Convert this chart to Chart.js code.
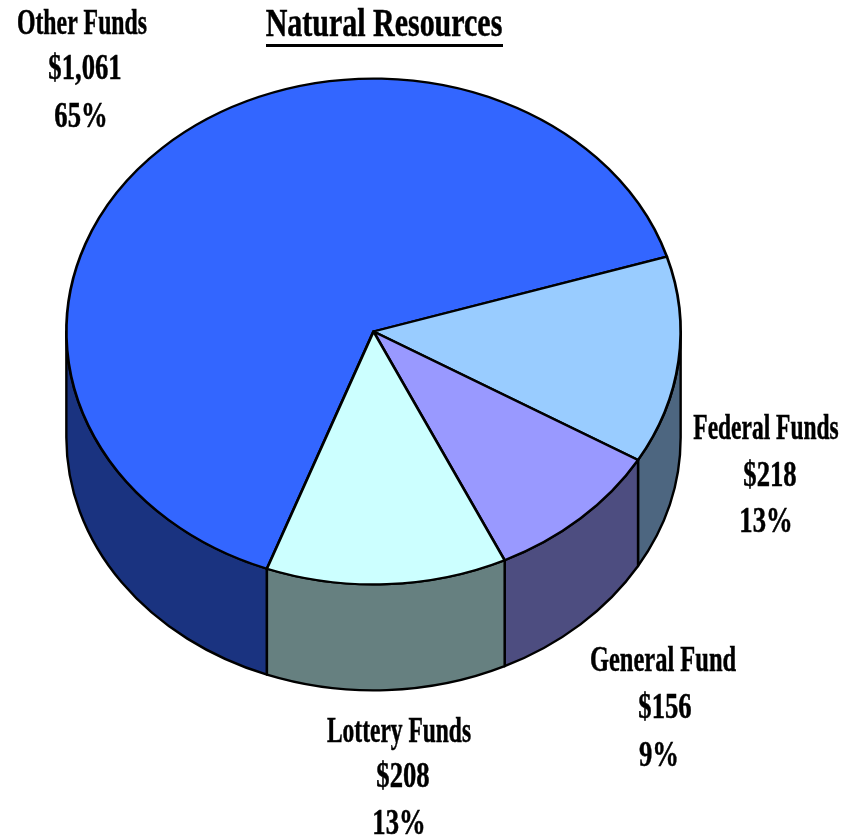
<!DOCTYPE html>
<html>
<head>
<meta charset="utf-8">
<style>
html,body{margin:0;padding:0;background:#fff;}
#wrap{position:absolute;left:0;top:0;width:844px;height:839px;}
</style>
<script src="https://cdn.jsdelivr.net/npm/chart.js@4"></script>
</head>
<body>
<div id="wrap"><canvas id="c" width="844" height="839"></canvas></div>
<script>
const chartTitle = 'Natural Resources';
const categories = ['Other Funds', 'Federal Funds', 'General Fund', 'Lottery Funds'];
const values = [1061, 218, 156, 208];
const amountLabels = ['$1,061', '$218', '$156', '$208'];
const percentLabels = ['65%', '13%', '9%', '13%'];
const topColors = ['#3366FF', '#99CCFF', '#9999FF', '#CCFFFF'];
const wallColors = ['#1A3380', '#4D6680', '#4D4D80', '#668080'];

// layout only
const squash = 254 / 308.5;
const depth = 106;
const startRotation = 200.3;
const labelCentres = [
  [[82, 25], [85, 70], [81, 118]],
  [[766, 430], [770, 477], [766, 523]],
  [[663, 662], [665, 709], [659, 757]],
  [[399, 733], [403, 778], [399, 825]]
];
const nameStretch = [0.66, 0.652, 0.68, 0.652];

const TAU = Math.PI * 2;
function condensedText(ctx, text, x, y, size, sx) {
  ctx.save();
  ctx.translate(x, y);
  ctx.scale(sx, 1);
  ctx.font = 'bold ' + size + 'px "Liberation Serif"';
  ctx.textAlign = 'center';
  ctx.textBaseline = 'middle';
  ctx.fillStyle = '#000';
  ctx.strokeStyle = '#000';
  ctx.lineWidth = 0.5;
  ctx.fillText(text, 0, 0);
  ctx.strokeText(text, 0, 0);
  ctx.restore();
}

const pie3d = {
  id: 'pie3d',
  beforeDatasetsDraw(chart) {
    const ctx = chart.ctx;
    const arcs = chart.getDatasetMeta(0).data;
    arcs.forEach((arc, i) => {
      const cx = arc.x, cy = arc.y, rx = arc.outerRadius, ry = rx * squash;
      let a0 = arc.startAngle, a1 = arc.endAngle;
      while (a0 < 0) { a0 += TAU; a1 += TAU; }
      while (a0 >= TAU) { a0 -= TAU; a1 -= TAU; }
      [[0, Math.PI], [TAU, TAU + Math.PI]].forEach(([lo, hi]) => {
        const s = Math.max(a0, lo), e = Math.min(a1, hi);
        if (e <= s) return;
        ctx.save();
        ctx.beginPath();
        ctx.ellipse(cx, cy, rx, ry, 0, s, e);
        ctx.ellipse(cx, cy + depth, rx, ry, 0, e, s, true);
        ctx.closePath();
        ctx.fillStyle = wallColors[i];
        ctx.fill();
        ctx.lineWidth = 2.4;
        ctx.strokeStyle = '#000';
        ctx.lineJoin = 'round';
        ctx.stroke();
        ctx.restore();
      });
    });
    const first = arcs[0];
    ctx.save();
    ctx.translate(first.x, first.y);
    ctx.scale(1, squash);
    ctx.translate(-first.x, -first.y);
  },
  afterDatasetsDraw(chart) {
    chart.ctx.restore();
  },
  afterDraw(chart) {
    const ctx = chart.ctx;
    condensedText(ctx, chartTitle, 384, 26, 40, 0.749);
    ctx.fillStyle = '#000';
    ctx.fillRect(266, 44, 237, 3);
    categories.forEach((name, i) => {
      const p = labelCentres[i];
      condensedText(ctx, name, p[0][0], p[0][1], 36, nameStretch[i]);
      condensedText(ctx, amountLabels[i], p[1][0], p[1][1], 36, 0.74);
      condensedText(ctx, percentLabels[i], p[2][0], p[2][1], 36, 0.74);
    });
  }
};

new Chart(document.getElementById('c'), {
  type: 'pie',
  data: {
    labels: categories,
    datasets: [{
      data: values,
      backgroundColor: topColors,
      borderColor: '#000',
      borderWidth: 2.7,
      borderAlign: 'center',
      borderJoinStyle: 'round',
      clip: false
    }]
  },
  options: {
    responsive: false,
    animation: false,
    rotation: startRotation,
    layout: { padding: { left: 65, right: 162, top: 23, bottom: 199 } },
    events: [],
    plugins: { legend: { display: false }, title: { display: false }, tooltip: { enabled: false } }
  },
  plugins: [pie3d]
});
</script>
</body>
</html>
